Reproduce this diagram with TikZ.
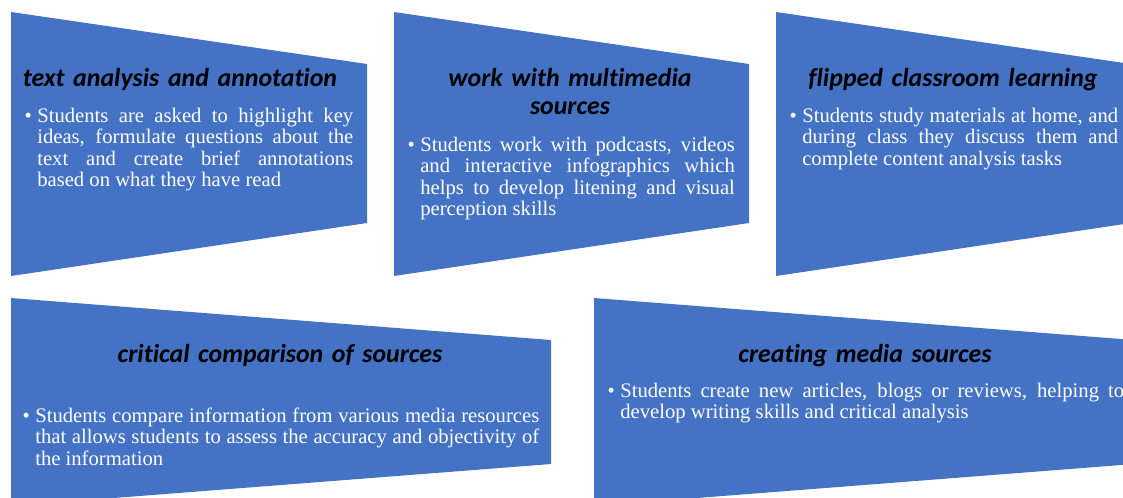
\documentclass[tikz,border=0pt]{standalone}
\usepackage{fontspec}
\setmainfont{Liberation Serif}
\newfontfamily\headfont[Ligatures=NoCommon]{Carlito}
\definecolor{panelblue}{HTML}{4472C4}

\begin{document}
\begin{tikzpicture}[x=0.75pt,y=-0.75pt,
    panel/.style={fill=panelblue},
    head/.style={font=\headfont\bfseries\itshape\fontsize{19.4}{21.5}\selectfont,
      text=black, align=center, text width=300pt, inner sep=0pt, anchor=base},
    body/.style={font=\fontsize{15.5}{16.2}\selectfont, text=white,
      align=justify, inner sep=0pt, anchor=base west}]
  \useasboundingbox (0,0) rectangle (1123,497);
  \clip (0,0) rectangle (1123,497);
  % top row
  \fill[panel] (11,12) -- (367,64) -- (367,223) -- (11,276) -- cycle;
  \fill[panel] (394,12) -- (749,64) -- (749,223) -- (394,276) -- cycle;
  \fill[panel] (776,12) -- (1131,64) -- (1131,223) -- (776,276) -- cycle;
  % bottom row
  \fill[panel] (11,298) -- (551,340) -- (551,464) -- (11,506) -- cycle;
  \fill[panel] (594,298) -- (1134,340) -- (1134,464) -- (594,506) -- cycle;

  \node[head] (t1) at (180,86) {text analysis and annotation};
  \node[body, text width=237pt] (b1) at (37,122) {\llap{\textbullet\hspace{4pt}}Students are asked to highlight key\linebreak
    ideas, formulate questions about the\linebreak text and create brief annotations\linebreak based on what they have read};

  \node[head] (t2) at (570,86) {work with multimedia\\sources};
  \node[body, text width=236pt] (b2) at (420,151) {\llap{\textbullet\hspace{4pt}}Students work with podcasts, videos\linebreak
    and interactive infographics which\linebreak helps to develop litening and visual\linebreak perception skills};

  \node[head] (t3) at (953,86) {flipped classroom learning};
  \node[body, text width=237pt] (b3) at (802,122) {\llap{\textbullet\hspace{4pt}}Students study materials at home, and\linebreak
    during class they discuss them and\linebreak complete content analysis tasks};

  \node[head] (t4) at (280,362) {critical comparison of sources};
  \node[body, text width=378pt] (b4) at (35,422) {\llap{\textbullet\hspace{4pt}}Students compare information from various media resources\linebreak
    that allows students to assess the accuracy and objectivity of\linebreak the information};

  \node[head] (t5) at (865,362) {creating media sources};
  \node[body, text width=378pt] (b5) at (620,397) {\llap{\textbullet\hspace{4pt}}Students create new articles, blogs or reviews, helping to\linebreak
    develop writing skills and critical analysis};
\end{tikzpicture}
\end{document}
